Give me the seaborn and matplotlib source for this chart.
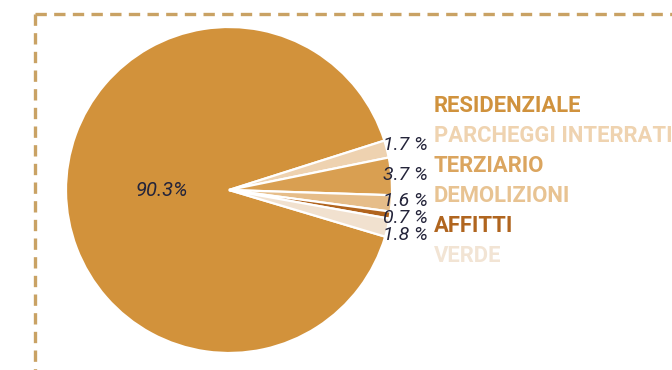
import numpy as np
import matplotlib
matplotlib.use("Agg")
import matplotlib.pyplot as plt
from matplotlib.lines import Line2D
import seaborn as sns

# Ripartizione per destinazione d'uso
categories = ["RESIDENZIALE", "PARCHEGGI INTERRATI", "TERZIARIO",
              "DEMOLIZIONI", "AFFITTI", "VERDE"]
shares = [90.3, 1.7, 3.7, 1.6, 0.7, 1.8]
colors = ["#d2923b", "#eed2b0", "#d99f51", "#e6bd89", "#b1641e", "#f1e1cf"]
legend_colors = ["#d0923d", "#efd3b0", "#dba55f", "#e8c392", "#b0651f", "#f2e4d4"]

sns.set_theme(style="white")
plt.rcParams["font.family"] = ["Roboto", "DejaVu Sans"]

W, H = 672, 370
fig = plt.figure(figsize=(W / 100, H / 100), dpi=100)

# pie placement in pixels
cx, cy, r = 229, 190, 163
ax = fig.add_axes([(cx - r) / W, (H - cy - r) / H, 2 * r / W, 2 * r / H])

total = sum(shares)
small = total - shares[0]
# the small slices sit centred on the right-hand side
start = (small / total * 360) / 2 + 0.5 + shares[0] / total * 360

wedges, _ = ax.pie(shares, colors=colors, startangle=start, counterclock=False,
                   radius=1.0,
                   wedgeprops=dict(edgecolor="white", linewidth=1.6))
ax.set_xlim(-1, 1)
ax.set_ylim(-1, 1)
ax.set_aspect("equal", adjustable="box")
ax.axis("off")

label_color = "#24243a"

# main slice label inside the wedge
w0 = wedges[0]
mid0 = np.deg2rad((w0.theta1 + w0.theta2) / 2)
ax.text(0.415 * np.cos(mid0), 0.415 * np.sin(mid0), f"{shares[0]:.1f}%",
        ha="center", va="center", fontsize=14.5, style="italic",
        color=label_color)

# small slices: labels outside, right aligned, spread apart where they crowd
ys = []
for w in wedges[1:]:
    mid = np.deg2rad((w.theta1 + w.theta2) / 2)
    ys.append(1.105 * np.sin(mid))
ys = np.array(ys)
min_gap = 0.105
for _ in range(300):
    moved = False
    for i in range(len(ys) - 1):
        gap = ys[i] - ys[i + 1]
        if gap < min_gap - 1e-6:
            d = (min_gap - gap) / 2
            ys[i] += d
            ys[i + 1] -= d
            moved = True
    if not moved:
        break

x_right = (428 - cx) / r
for val, y in zip(shares[1:], ys):
    ax.text(x_right, y, f"{val:.1f} %", ha="right", va="center",
            fontsize=14, style="italic", color=label_color, clip_on=False)

# category list on the right
for i, (name, col) in enumerate(zip(categories, legend_colors)):
    fig.text(434 / W, 1 - (106 + 30 * i) / H, name, ha="left", va="center",
             fontsize=15.8, fontweight="bold", color=col)

# dashed frame
frame_col = "#c9a264"
kw = dict(color=frame_col, linewidth=2.4, linestyle=(0, (3.4, 2.2)),
          transform=fig.transFigure)
fig.add_artist(Line2D([35 / W, 1.02], [1 - 14 / H, 1 - 14 / H], **kw))
fig.add_artist(Line2D([35 / W, 35 / W], [1 - 14 / H, -0.02], **kw))

fig.savefig("out.png", dpi=100)
